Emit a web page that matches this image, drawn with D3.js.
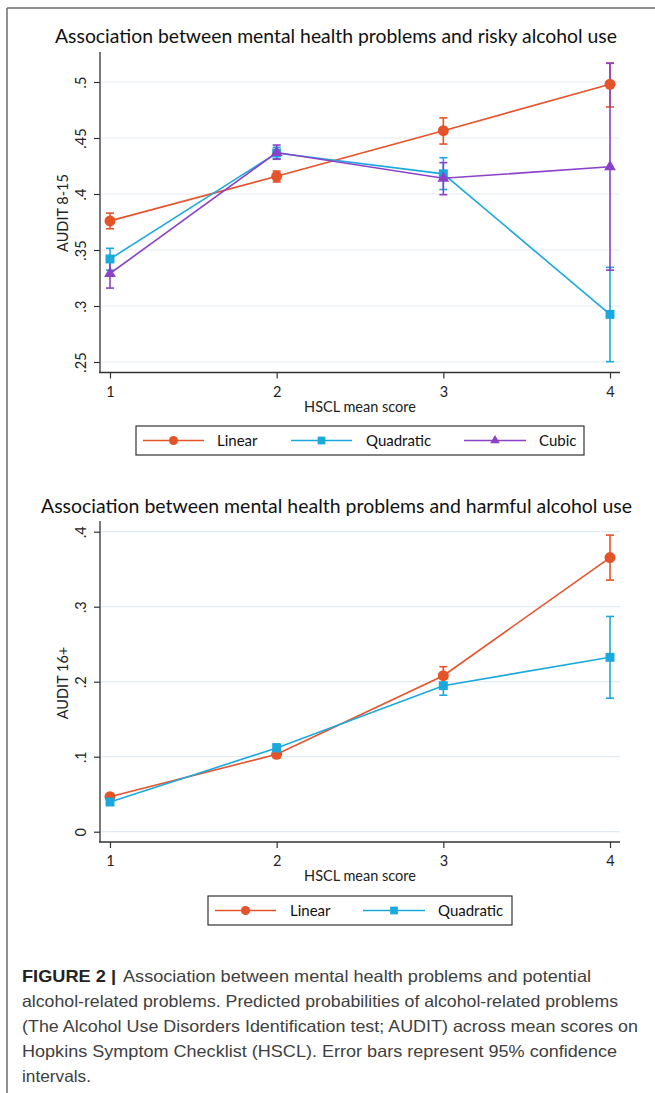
<!DOCTYPE html>
<html>
<head>
<meta charset="utf-8">
<script src="https://cdn.jsdelivr.net/npm/d3@7"></script>
<style>
  html, body { margin: 0; padding: 0; background: #fff; }
  svg { display: block; }
</style>
</head>
<body>
<svg id="fig" width="655" height="1093"></svg>
<script>
// HSCL mean score categories on the x axis
const hsclScores = [1, 2, 3, 4];
const hsclTickLabels = ["1", "2", "3", "4"];

// Panel 1: risky alcohol use (AUDIT 8-15) — predicted probabilities and 95% CI
const riskyTicks = [0.25, 0.3, 0.35, 0.4, 0.45, 0.5];
const riskyTickLabels = [".25", ".3", ".35", ".4", ".45", ".5"];
const riskyLinear   = [0.376, 0.4158, 0.4565, 0.498];
const riskyLinearLo = [0.369, 0.4107, 0.4446, 0.4777];
const riskyLinearHi = [0.383, 0.4205, 0.468, 0.517];
const riskyQuad     = [0.342, 0.4366, 0.418, 0.2925];
const riskyQuadLo   = [0.332, 0.4315, 0.404, 0.2503];
const riskyQuadHi   = [0.3515, 0.4417, 0.4324, 0.3345];
const riskyCubic    = [0.329, 0.437, 0.414, 0.4243];
const riskyCubicLo  = [0.316, 0.431, 0.3994, 0.332];
const riskyCubicHi  = [0.342, 0.4437, 0.428, 0.5167];

// Panel 2: harmful alcohol use (AUDIT 16+)
const harmTicks = [0, 0.1, 0.2, 0.3, 0.4];
const harmTickLabels = ["0", ".1", ".2", ".3", ".4"];
const harmLinear   = [0.0467, 0.1032, 0.208, 0.3655];
const harmLinearLo = [0.043, 0.099, 0.196, 0.3355];
const harmLinearHi = [0.0505, 0.1075, 0.220, 0.3955];
const harmQuad     = [0.0396, 0.1116, 0.1947, 0.2325];
const harmQuadLo   = [0.0355, 0.106, 0.182, 0.178];
const harmQuadHi   = [0.0437, 0.117, 0.207, 0.287];

const seriesNames = ["Linear", "Quadratic", "Cubic"];
const seriesColors = ["#e5532b", "#1ba9dd", "#8a42c9"];
const seriesShapes = [d3.symbolCircle, d3.symbolSquare, d3.symbolTriangle];

const FONT = "Lato, 'Open Sans', sans-serif";
const svg = d3.select("#fig");

svg.append("rect").attr("width", 655).attr("height", 1093).attr("fill", "#fff");

// figure frame (top and left rules)
svg.append("line").attr("x1", 7).attr("x2", 655).attr("y1", 8).attr("y2", 8)
  .attr("stroke", "#6b6b6b").attr("stroke-width", 1.5);
svg.append("line").attr("x1", 7).attr("x2", 7).attr("y1", 8).attr("y2", 1093)
  .attr("stroke", "#6b6b6b").attr("stroke-width", 1.5);

const x = d3.scaleLinear().domain([1, 4]).range([110, 610]);

function panel(opt) {
  const g = svg.append("g");
  const y = opt.y;

  // title
  g.append("text")
    .attr("x", opt.titleX0).attr("y", opt.titleY)
    .attr("textLength", opt.titleW).attr("lengthAdjust", "spacingAndGlyphs")
    .attr("font-family", FONT).attr("font-size", 19).attr("fill", "#111")
    .text(opt.title);

  // gridlines
  g.append("g").selectAll("line").data(opt.ticks).join("line")
    .attr("x1", 101).attr("x2", 620)
    .attr("y1", d => y(d)).attr("y2", d => y(d))
    .attr("stroke", "#e3ecf3").attr("stroke-width", 1.2);

  // y axis
  const yAxis = d3.axisLeft(y).tickValues(opt.ticks)
    .tickFormat((d, i) => opt.tickLabels[i]).tickSize(6).tickPadding(4);
  const ya = g.append("g").attr("transform", "translate(100,0)").call(yAxis);
  ya.select(".domain").attr("d", `M0,${opt.axisTop}V${opt.axisBottom}`)
    .attr("stroke", "#333").attr("stroke-width", 1.3);
  ya.selectAll(".tick line").attr("stroke", "#333").attr("stroke-width", 1.2);
  ya.selectAll(".tick text")
    .attr("font-family", FONT).attr("font-size", 14.5).attr("fill", "#222")
    .attr("x", null).attr("dy", null).attr("text-anchor", "middle")
    .attr("transform", "translate(-14,0) rotate(-90)");

  // x axis
  const xAxis = d3.axisBottom(x).tickValues(hsclScores)
    .tickFormat((d, i) => hsclTickLabels[i]).tickSize(6).tickPadding(8);
  const xa = g.append("g").attr("transform", `translate(0,${opt.axisBottom})`).call(xAxis);
  xa.select(".domain").attr("d", "M99,0H620").attr("stroke", "#333").attr("stroke-width", 1.3);
  xa.selectAll(".tick line").attr("stroke", "#333").attr("stroke-width", 1.2);
  xa.selectAll(".tick text").attr("font-family", FONT).attr("font-size", 14.5).attr("fill", "#222");

  // axis titles
  g.append("text").attr("x", 360).attr("y", opt.axisBottom + 39)
    .attr("text-anchor", "middle").attr("font-family", FONT).attr("font-size", 14.5).attr("fill", "#222")
    .text("HSCL mean score");
  g.append("text")
    .attr("transform", `translate(68,${opt.yTitleY}) rotate(-90)`)
    .attr("text-anchor", "middle").attr("font-family", FONT).attr("font-size", 14.5).attr("fill", "#222")
    .text(opt.yTitle);

  // confidence interval caps
  opt.series.forEach((s, k) => {
    const cg = g.append("g").attr("stroke", seriesColors[k]).attr("stroke-width", 1.6).attr("fill", "none");
    hsclScores.forEach((h, i) => {
      const cx = x(h);
      cg.append("line").attr("x1", cx).attr("x2", cx).attr("y1", y(s.lo[i])).attr("y2", y(s.hi[i]));
      cg.append("line").attr("x1", cx - 4).attr("x2", cx + 4).attr("y1", y(s.lo[i])).attr("y2", y(s.lo[i]));
      cg.append("line").attr("x1", cx - 4).attr("x2", cx + 4).attr("y1", y(s.hi[i])).attr("y2", y(s.hi[i]));
    });
  });

  // connected predictions with markers
  const line = d3.line().x((d, i) => x(hsclScores[i])).y(d => y(d));
  opt.series.forEach((s, k) => {
    g.append("path").datum(s.est).attr("d", line)
      .attr("fill", "none").attr("stroke", seriesColors[k]).attr("stroke-width", 1.6);
    g.append("g").selectAll("path").data(s.est).join("path")
      .attr("transform", (d, i) => `translate(${x(hsclScores[i])},${y(d)})`)
      .attr("d", d3.symbol().type(seriesShapes[k]).size(k === 0 ? 95 : (k === 1 ? 80 : 60)))
      .attr("fill", seriesColors[k]);
  });

  // legend
  const lg = g.append("g");
  lg.append("rect").attr("x", opt.legend.x0).attr("y", opt.legend.y0)
    .attr("width", opt.legend.x1 - opt.legend.x0).attr("height", opt.legend.y1 - opt.legend.y0)
    .attr("fill", "#fff").attr("stroke", "#333").attr("stroke-width", 1.2);
  const cy = (opt.legend.y0 + opt.legend.y1) / 2;
  opt.series.forEach((s, k) => {
    const it = opt.legend.items[k];
    lg.append("line").attr("x1", it.l0).attr("x2", it.l1).attr("y1", cy).attr("y2", cy)
      .attr("stroke", seriesColors[k]).attr("stroke-width", 1.6);
    lg.append("path").attr("transform", `translate(${(it.l0 + it.l1) / 2},${cy})`)
      .attr("d", d3.symbol().type(seriesShapes[k]).size(k === 0 ? 65 : (k === 1 ? 60 : 40)))
      .attr("fill", seriesColors[k]);
    lg.append("text").attr("x", it.t).attr("y", cy + 5)
      .attr("font-family", FONT).attr("font-size", 15).attr("fill", "#111")
      .text(seriesNames[k]);
  });
}

panel({
  title: "Association between mental health problems and risky alcohol use",
  titleX0: 55, titleW: 562, titleY: 43,
  y: d3.scaleLinear().domain([0.25, 0.5]).range([362, 82]),
  ticks: riskyTicks, tickLabels: riskyTickLabels,
  axisTop: 52, axisBottom: 372.5,
  yTitle: "AUDIT 8-15", yTitleY: 213,
  series: [
    { est: riskyLinear, lo: riskyLinearLo, hi: riskyLinearHi },
    { est: riskyQuad, lo: riskyQuadLo, hi: riskyQuadHi },
    { est: riskyCubic, lo: riskyCubicLo, hi: riskyCubicHi }
  ],
  legend: {
    x0: 136, x1: 584, y0: 426, y1: 455,
    items: [
      { l0: 143, l1: 204, t: 217 },
      { l0: 291, l1: 352, t: 366 },
      { l0: 464, l1: 526, t: 539 }
    ]
  }
});

panel({
  title: "Association between mental health problems and harmful alcohol use",
  titleX0: 41, titleW: 591, titleY: 513,
  y: d3.scaleLinear().domain([0, 0.4]).range([831.7, 531.7]),
  ticks: harmTicks, tickLabels: harmTickLabels,
  axisTop: 521, axisBottom: 842,
  yTitle: "AUDIT 16+", yTitleY: 683,
  series: [
    { est: harmLinear, lo: harmLinearLo, hi: harmLinearHi },
    { est: harmQuad, lo: harmQuadLo, hi: harmQuadHi }
  ],
  legend: {
    x0: 208, x1: 512, y0: 896, y1: 925,
    items: [
      { l0: 215, l1: 276, t: 290 },
      { l0: 363, l1: 425, t: 438 }
    ]
  }
});

// figure caption
const CAP = "'Liberation Sans', Arial, sans-serif";
const capTop = 982;
const capLines = [
  { t: "Association between mental health problems and potential", x0: 123, x1: 591 },
  { t: "alcohol-related problems. Predicted probabilities of alcohol-related problems", x0: 22, x1: 618 },
  { t: "(The Alcohol Use Disorders Identification test; AUDIT) across mean scores on", x0: 22, x1: 638 },
  { t: "Hopkins Symptom Checklist (HSCL). Error bars represent 95% confidence", x0: 22, x1: 617 },
  { t: "intervals.", x0: 22, x1: 91 }
];
svg.append("text").attr("x", 22).attr("y", capTop)
  .attr("textLength", 94).attr("lengthAdjust", "spacingAndGlyphs")
  .attr("font-family", CAP).attr("font-weight", "bold").attr("font-size", 16.5).attr("fill", "#222")
  .text("FIGURE 2 |");
capLines.forEach((c, i) => {
  svg.append("text").attr("x", c.x0).attr("y", capTop + i * 25)
    .attr("textLength", c.x1 - c.x0).attr("lengthAdjust", "spacingAndGlyphs")
    .attr("font-family", CAP).attr("font-size", 16.5).attr("fill", "#404040")
    .text(c.t);
});
</script>
</body>
</html>
